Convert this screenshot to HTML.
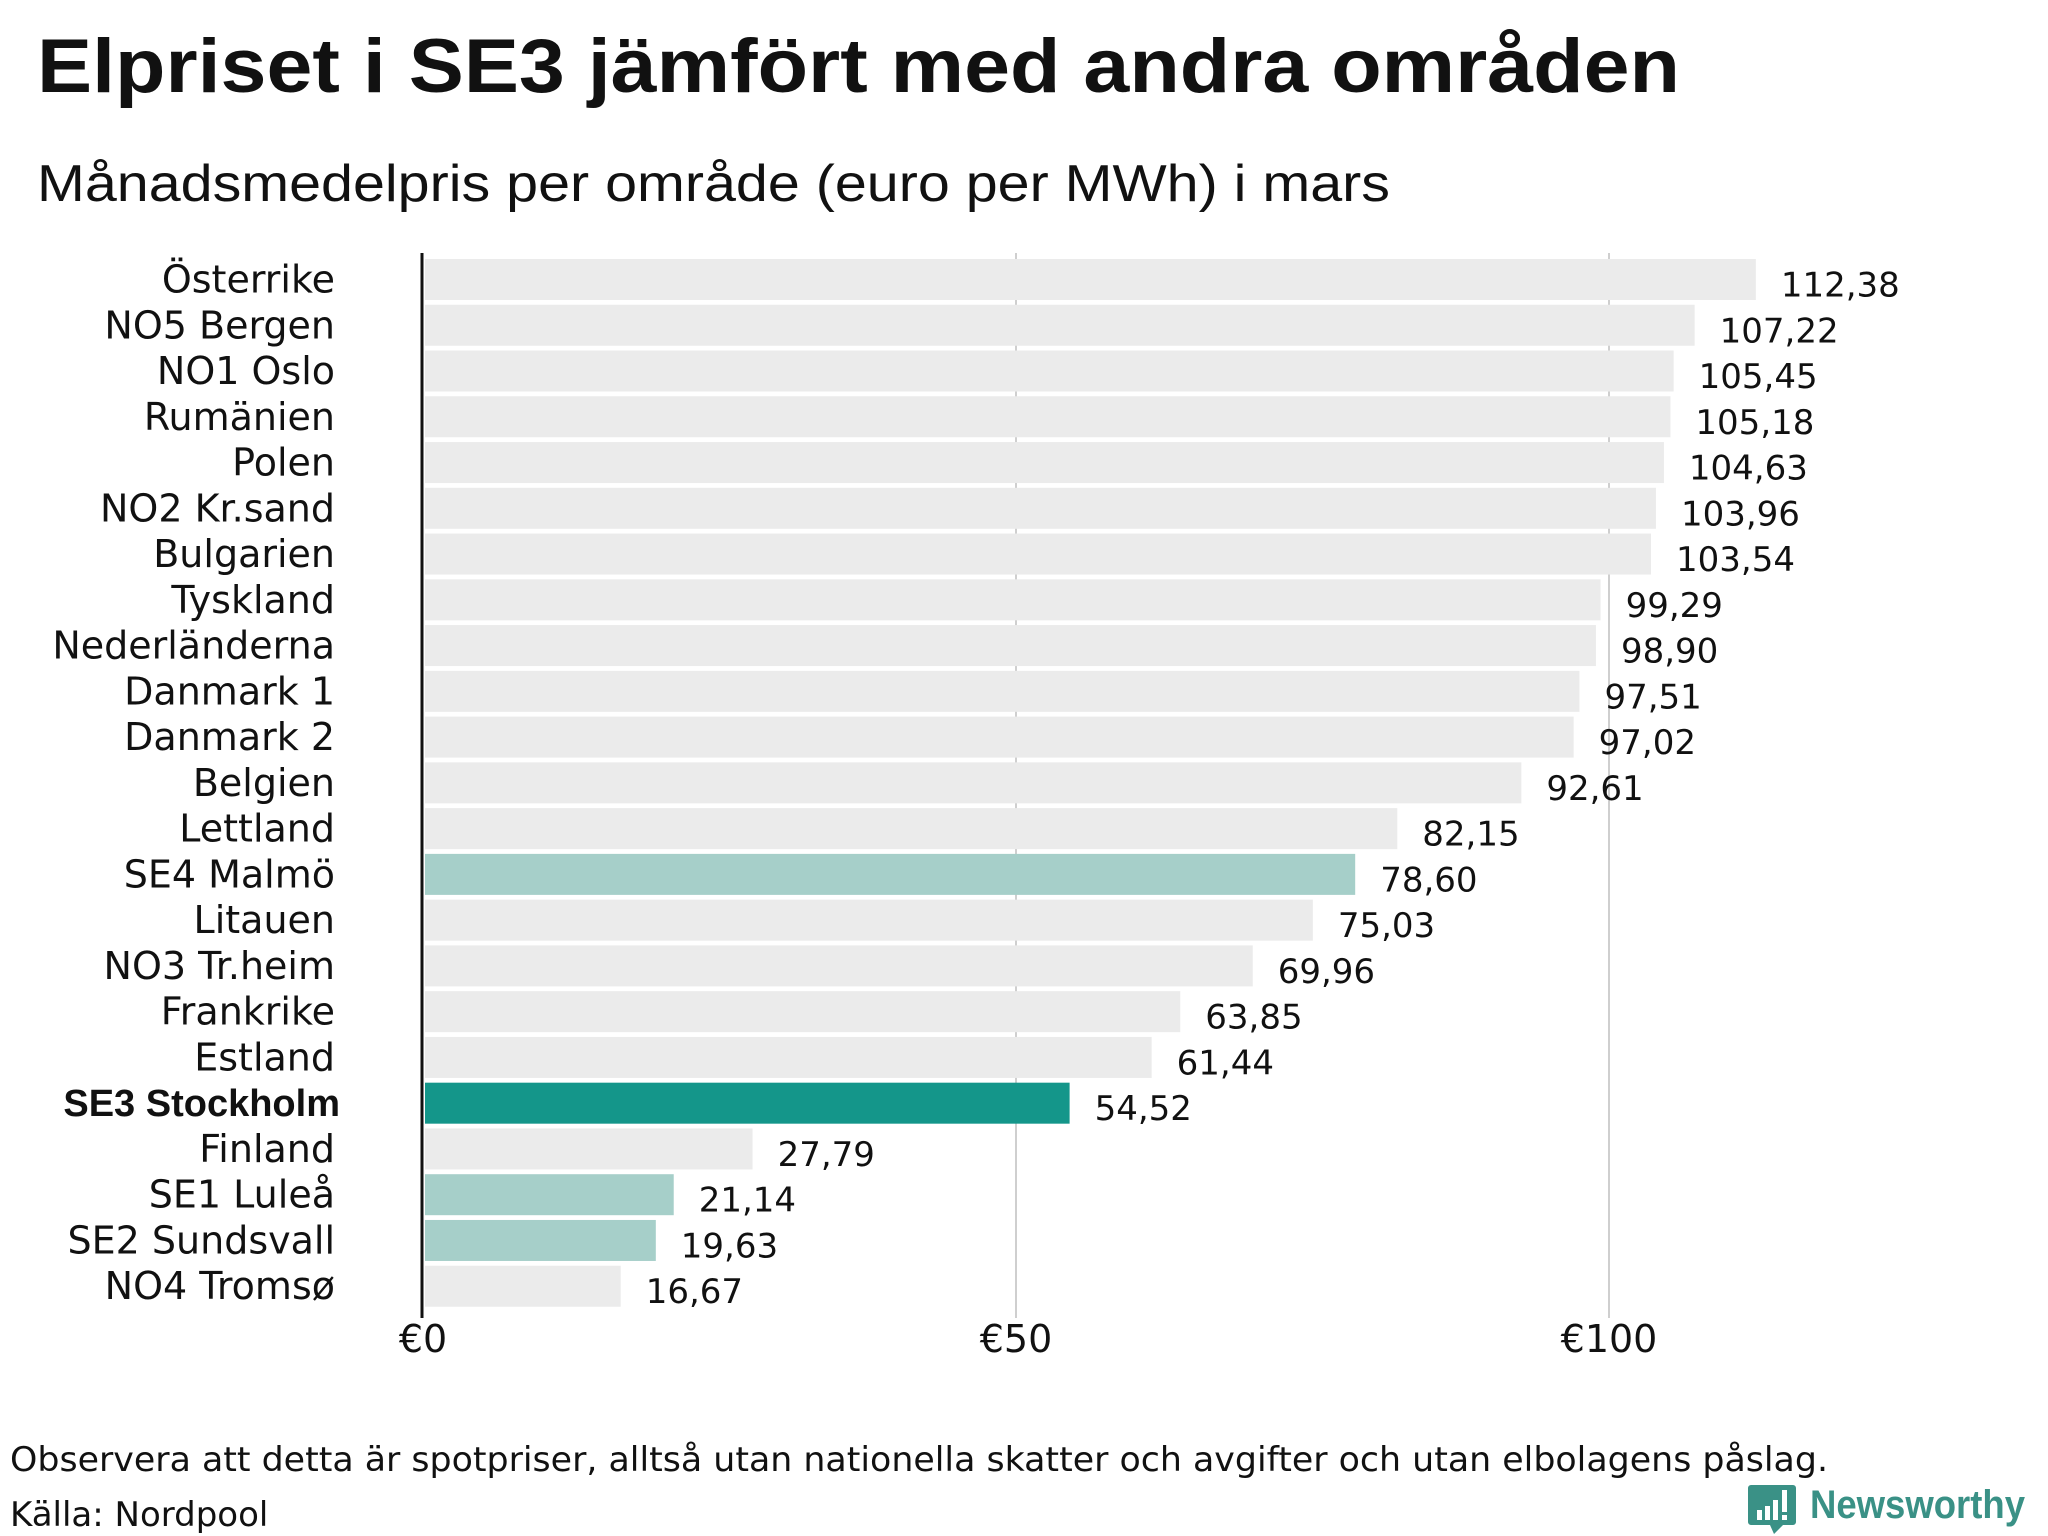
<!DOCTYPE html>
<html><head><meta charset="utf-8"><style>
html,body{margin:0;padding:0;background:#fff}
svg{display:block}
text{font-family:"Liberation Sans",sans-serif}
.dv{font-family:"DejaVu Sans","Liberation Sans",sans-serif}
</style></head><body>
<svg id="chart" width="2048" height="1536" viewBox="0 0 2048 1536" xmlns="http://www.w3.org/2000/svg">
<text x="37" y="92" font-size="76" font-weight="bold" fill="#111" textLength="1643" lengthAdjust="spacingAndGlyphs">Elpriset i SE3 jämfört med andra områden</text>
<text x="37" y="201" font-size="52" fill="#111" textLength="1353" lengthAdjust="spacingAndGlyphs">Månadsmedelpris per område (euro per MWh) i mars</text>
<g id="grid"></g>
<g id="bars"></g>
<g id="labels"></g>
<line x1="422" y1="253" x2="422" y2="1318" stroke="#111" stroke-width="3"/>
<text class="dv" x="10" y="1471" font-size="34" fill="#111" textLength="1818" lengthAdjust="spacingAndGlyphs">Observera att detta är spotpriser, alltså utan nationella skatter och avgifter och utan elbolagens påslag.</text>
<text class="dv" x="10" y="1526" font-size="34" fill="#111">Källa: Nordpool</text>
<g>
<path d="M1751 1485 h42 a3 3 0 0 1 3 3 v34 a3 3 0 0 1 -3 3 h-10 l-9 9 l-4 -9 h-19 a3 3 0 0 1 -3 -3 v-34 a3 3 0 0 1 3 -3z" fill="#3a9186"/>
<rect x="1757" y="1510" width="5" height="10" fill="#fff"/>
<rect x="1765" y="1506" width="5" height="14" fill="#fff"/>
<rect x="1773" y="1500" width="5" height="20" fill="#fff"/>
<rect x="1782" y="1490" width="5" height="22" fill="#fff"/>
<rect x="1782" y="1515" width="5" height="5" fill="#fff"/>
<text x="1810" y="1518" font-size="40" font-weight="bold" fill="#3a9186" textLength="215" lengthAdjust="spacingAndGlyphs">Newsworthy</text>
</g>
</svg>
<script>
const categories = ["Österrike","NO5 Bergen","NO1 Oslo","Rumänien","Polen","NO2 Kr.sand","Bulgarien","Tyskland","Nederländerna","Danmark  1","Danmark  2","Belgien","Lettland","SE4  Malmö","Litauen","NO3 Tr.heim","Frankrike","Estland","SE3 Stockholm","Finland","SE1  Luleå","SE2  Sundsvall","NO4 Tromsø"];
const values = [112.38,107.22,105.45,105.18,104.63,103.96,103.54,99.29,98.90,97.51,97.02,92.61,82.15,78.60,75.03,69.96,63.85,61.44,54.52,27.79,21.14,19.63,16.67];
const highlight = ["","","","","","","","","","","","","","light","","","","","dark","","light","light",""];
const ticks = [0,50,100];
const tickLabels = ["€0","€50","€100"];

const NS = "http://www.w3.org/2000/svg";
const x0 = 423, pxPerUnit = 11.86, y0 = 259, pitch = 45.76, barH = 41;
const xs = v => x0 + v * pxPerUnit;
const ys = i => y0 + i * pitch;
function mk(tag, attrs, parent){const e=document.createElementNS(NS,tag);for(const k in attrs)e.setAttribute(k,attrs[k]);parent.appendChild(e);return e;}
const grid=document.getElementById('grid'), bars=document.getElementById('bars'), labels=document.getElementById('labels');
ticks.forEach((t,i)=>{
  if(t>0){const l=mk('line',{x1:xs(t),x2:xs(t),y1:253,y2:1318,stroke:'#cfcfcf','stroke-width':2},grid);
  
  }
  const tx=mk('text',{x:xs(t),y:1352,'font-size':38,'text-anchor':'middle',fill:'#111','class':'dv'},grid);
  tx.textContent=tickLabels[i];
  
  
});
categories.forEach((c,i)=>{
  const fill = highlight[i]==='dark' ? '#14968a' : highlight[i]==='light' ? '#a6cfc9' : '#ebebeb';
  const r=mk('rect',{x:x0+2,y:ys(i),width:xs(values[i])-x0-2,height:barH,fill:fill},bars);
  
  
  const cy = ys(i)+barH/2;
  const bold = highlight[i]==='dark';
  const attrs = {x:bold?340:335,y:cy+13,'font-size':38,'font-weight':bold?'bold':'normal','text-anchor':'end',fill:'#111','xml:space':'preserve'};
  if(!bold) attrs['class']='dv';
  const lt=mk('text',attrs,labels);
  lt.textContent=c;
  
  
  const vt=mk('text',{x:xs(values[i])+25,y:cy+17,'font-size':34,fill:'#111','class':'dv'},labels);
  vt.textContent=values[i].toFixed(2).replace('.',',');
  
  
});
</script>
</body></html>
